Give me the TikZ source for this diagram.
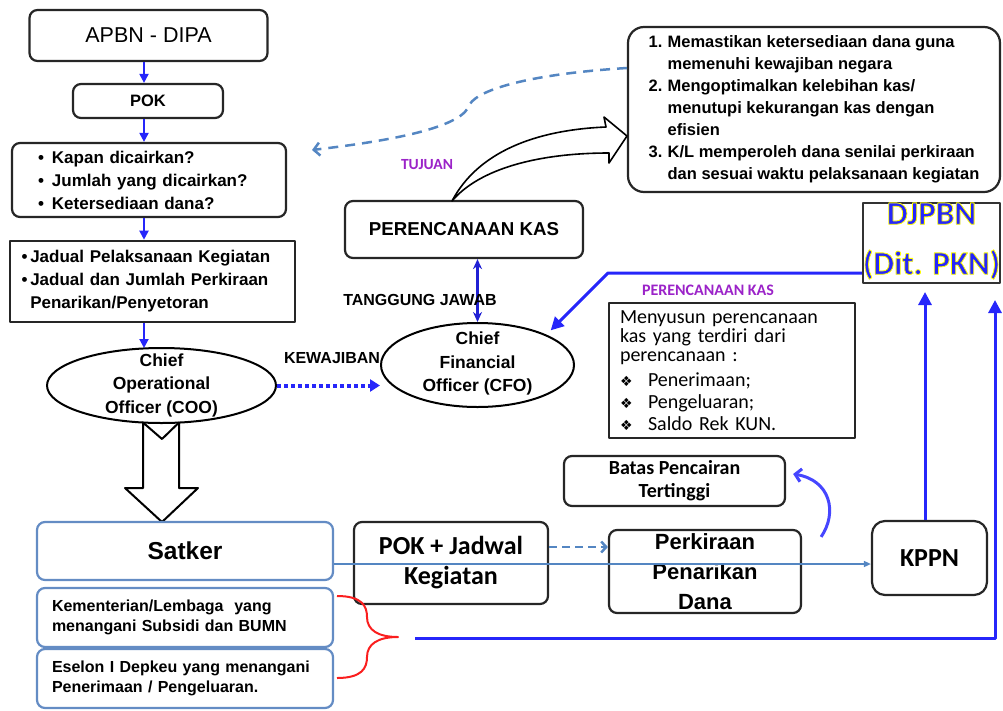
\documentclass[tikz,border=0pt]{standalone}
\usepackage{fontspec}
\setmainfont{Liberation Sans}
\newfontfamily\cond{Carlito}
\newfontfamily\symb{DejaVu Sans}
\usetikzlibrary{arrows.meta,shapes.geometric}
\definecolor{arrblue}{RGB}{38,38,250}
\definecolor{curveblue}{RGB}{70,70,255}
\definecolor{boxblue}{RGB}{100,140,196}
\definecolor{lineblue}{RGB}{84,134,194}
\definecolor{lblpurple}{RGB}{155,35,200}
\definecolor{bracered}{RGB}{250,30,30}
\newcommand{\fsz}[2]{\fontsize{#1}{#2}\selectfont}
\newcommand{\squashtext}[2]{\smash{\raisebox{#1}{\begin{tabular}{@{}c@{}}#2\end{tabular}}}}
\newcommand{\yellowrim}[1]{\special{pdf:literal direct 2 Tr 1 1 0 RG 0.8 w}#1\special{pdf:literal direct 0 Tr}}

\begin{document}
\begin{tikzpicture}[x=1pt, y=-1pt, line join=round,
  box/.style={draw=black!85, line width=2.2pt, rounded corners=8pt, fill=white, inner sep=0pt, align=center, font=\bfseries},
  sqbox/.style={box, rounded corners=0pt},
  bluebox/.style={box, draw=boxblue},
  oval/.style={ellipse, draw=black, line width=2pt, fill=white, inner sep=0pt, font=\bfseries\fsz{17.5}{23.5}},
  flow/.style={draw=arrblue, line width=2pt, -{Triangle[length=9pt,width=9pt]}},
  bigblue/.style={draw=arrblue, line width=3pt, -{Triangle[length=13pt,width=13pt]}},
  lbl/.style={font=\bfseries\fsz{16}{18}, inner sep=0pt},
  tag/.style={font=\cond\bfseries\fsz{16}{18}, text=lblpurple, inner sep=0pt}]
\useasboundingbox (0,0) rectangle (1003,710);

% left column
\node[box, minimum width=238, minimum height=51, font=\fsz{21.5}{24}] (apbn) at (148.5,35.5) {APBN - DIPA};
\node[box, minimum width=150, minimum height=34, font=\bfseries\fsz{16.5}{20}] (pok) at (148,101) {POK};
\node[box, minimum width=274, minimum height=74, text width=222, align=left, font=\bfseries\fsz{17}{23}] (tanya) at (149,180)
  {\textbullet\hspace{8pt}Kapan dicairkan?\\\textbullet\hspace{8pt}Jumlah yang dicairkan?\\\textbullet\hspace{8pt}Ketersediaan dana?};
\node[sqbox, line width=2.6pt, minimum width=285, minimum height=81, text width=262, align=left, font=\bfseries\fsz{17}{23}] (jadual) at (152.5,281.5)
  {\textbullet\,Jadual Pelaksanaan Kegiatan\\\textbullet\,Jadual dan Jumlah Perkiraan\\\phantom{\textbullet\,}Penarikan/Penyetoran};
\node[oval, minimum width=229, minimum height=75] (coo) at (161.5,385.5) {\squashtext{-4pt}{Chief\\Operational\\Officer (COO)}};

\coordinate (axis) at (144,0);
\draw[flow] (apbn.south -| axis) -- (pok.north -| axis);
\draw[flow] (pok.south -| axis) -- (tanya.north -| axis);
\draw[flow] (tanya.south -| axis) -- (jadual.north -| axis);
\draw[flow] (jadual.south -| axis) -- (144,348);

% big hollow arrow down to Satker
\draw[line width=2pt, fill=white] (143,422.5) -- (162,439) -- (179,422.5) -- (179,488) -- (198,488) -- (162,522) -- (125,488) -- (143,488) -- cycle;

\node[bluebox, minimum width=296, minimum height=58, font=\bfseries\fsz{24.5}{28}] (satker) at (185,551) {Satker};
\node[bluebox, minimum width=296, minimum height=59, text width=266, align=left, font=\bfseries\fsz{16}{20}] (kem) at (185,617.5)
  {Kementerian/Lembaga\ \ yang\\menangani Subsidi dan BUMN};
\node[bluebox, minimum width=296, minimum height=59, text width=266, align=left, font=\bfseries\fsz{16}{20}] (esel) at (185,678.5)
  {Eselon I Depkeu yang menangani\\Penerimaan / Pengeluaran.\\[8pt]};

% middle
\node[box, minimum width=238, minimum height=57, font=\bfseries\fsz{18.7}{22}] (pk) at (464,229.5) {PERENCANAAN KAS};
\node[oval, minimum width=193, minimum height=84] (cfo) at (477.5,365) {\squashtext{-3pt}{Chief\\Financial\\Officer (CFO)}};
\draw[draw=arrblue!85!black, line width=2.2pt, {Stealth[length=10pt,width=9pt]}-{Stealth[length=10pt,width=9pt]}] (pk.south -| cfo.north) -- (cfo.north);
\node[lbl] (tj) at (420,300) {TANGGUNG JAWAB};
\node[lbl] (kw) at (332,358) {KEWAJIBAN};
\draw[draw=arrblue, line width=4pt, dash pattern=on 4pt off 3pt, -{Triangle[length=10pt,width=12pt]}] (coo.east) -- (coo.east -| cfo.west);
\node[tag, font=\cond\bfseries\fsz{15.5}{18}] (tuj) at (427,165) {TUJUAN};

% purpose list
\node[box, rounded corners=16pt, minimum width=372, minimum height=165, align=left, font=\bfseries\fsz{16.5}{22}] (tujuan) at (814,109.5)
  {\makebox[19pt][l]{1.}Memastikan ketersediaan dana guna\\\hspace*{19pt}memenuhi kewajiban negara\\
   \makebox[19pt][l]{2.}Mengoptimalkan kelebihan kas/\\\hspace*{19pt}menutupi kekurangan kas dengan\\\hspace*{19pt}efisien\\
   \makebox[19pt][l]{3.}K/L memperoleh dana senilai perkiraan\\\hspace*{19pt}dan sesuai waktu pelaksanaan kegiatan};
\draw[line width=1.6pt, fill=white] (452,201) .. controls (478,152) and (535,130) .. (606,127) -- (604,117) -- (627,136)
  -- (609,163) -- (609,153) .. controls (540,153) and (480,168) .. (452,201) -- cycle;
\coordinate (dashfrom) at (627,68);
\coordinate (dashto) at (312,150);
\draw[draw=lineblue, line width=2.5pt, dash pattern=on 10pt off 7pt, -{Straight Barb[length=6pt,width=13pt]}]
  (dashfrom) .. controls (530,74) and (472,90) .. (468,108) .. controls (455,130) and (380,142) .. (dashto);

% right side
\node[sqbox, line width=2.5pt, draw=black!80, minimum width=137, minimum height=80, font=\cond\bfseries\fsz{33}{50}, text=arrblue] (djpbn) at (931.5,243)
  {\squashtext{-2.5pt}{\yellowrim{DJPBN}\\\yellowrim{(Dit. PKN)}}};
\node[tag] (pkas) at (708,290) {PERENCANAAN KAS};
\node[sqbox, line width=2pt, minimum width=246, minimum height=135, text width=224, align=left, font=\cond\fsz{20}{19}] (susun) at (732,370.5)
  {Menyusun perencanaan\\kas yang terdiri dari\\perencanaan :\\[6pt]
   \makebox[28pt][l]{\symb\fsz{14}{14}❖}Penerimaan;\\[3pt]
   \makebox[28pt][l]{\symb\fsz{14}{14}❖}Pengeluaran;\\[3pt]
   \makebox[28pt][l]{\symb\fsz{14}{14}❖}Saldo Rek KUN.};
\draw[bigblue, shorten >=6pt] ([yshift=-30pt]djpbn.west) -- (608,273) -- (cfo.north east);

% bottom row
\node[box, minimum width=221, minimum height=50, font=\cond\bfseries\fsz{20}{23}] (batas) at (674.5,481) {Batas Pencairan\\Tertinggi};
\node[box, minimum width=194, minimum height=82, font=\cond\bfseries\fsz{26}{30}] (pok2) at (451,563) {POK + Jadwal\\Kegiatan};
\node[box, minimum width=192, minimum height=83, font=\bfseries\fsz{22}{30}] (perk) at (705,571.5) {Perkiraan\\Penarikan\\Dana};
\node[box, rounded corners=13pt, minimum width=115, minimum height=74, font=\cond\bfseries\fsz{26}{30}] (kppn) at (929.5,558) {KPPN};

\coordinate (da) at (0,547);
\draw[draw=lineblue, line width=2.5pt, dash pattern=on 8pt off 5pt, -{Straight Barb[length=5pt,width=11pt]}] (pok2.east |- da) -- (perk.west |- da);
\coordinate (tl) at (0,564);
\draw[draw=lineblue, line width=1.5pt, -{Triangle[length=7pt,width=6pt]}] (satker.east |- tl) -- (kppn.west |- tl);
\draw[draw=curveblue, line width=3pt, -{Straight Barb[length=6pt,width=13pt]}]
  ([xshift=19pt,yshift=-8pt]perk.north east) .. controls (838,512) and (830,480) .. ([xshift=7pt,yshift=7pt]batas.east);
\draw[bigblue] ([xshift=-4.5pt]kppn.north) -- (925,292);

% brace and return line
\draw[draw=bracered, line width=2pt] (337,596) .. controls (362,596) and (367,606) .. (367,617) .. controls (367,630) and (378,637) .. (398,637)
  .. controls (378,637) and (367,644) .. (367,657) .. controls (367,668) and (362,678) .. (337,678);
\coordinate (brace) at (398,638);
\coordinate (rline) at (995,0);
\draw[bigblue] ([xshift=17pt]brace) -- (brace -| rline) -- (995,300);
\end{tikzpicture}
\end{document}
